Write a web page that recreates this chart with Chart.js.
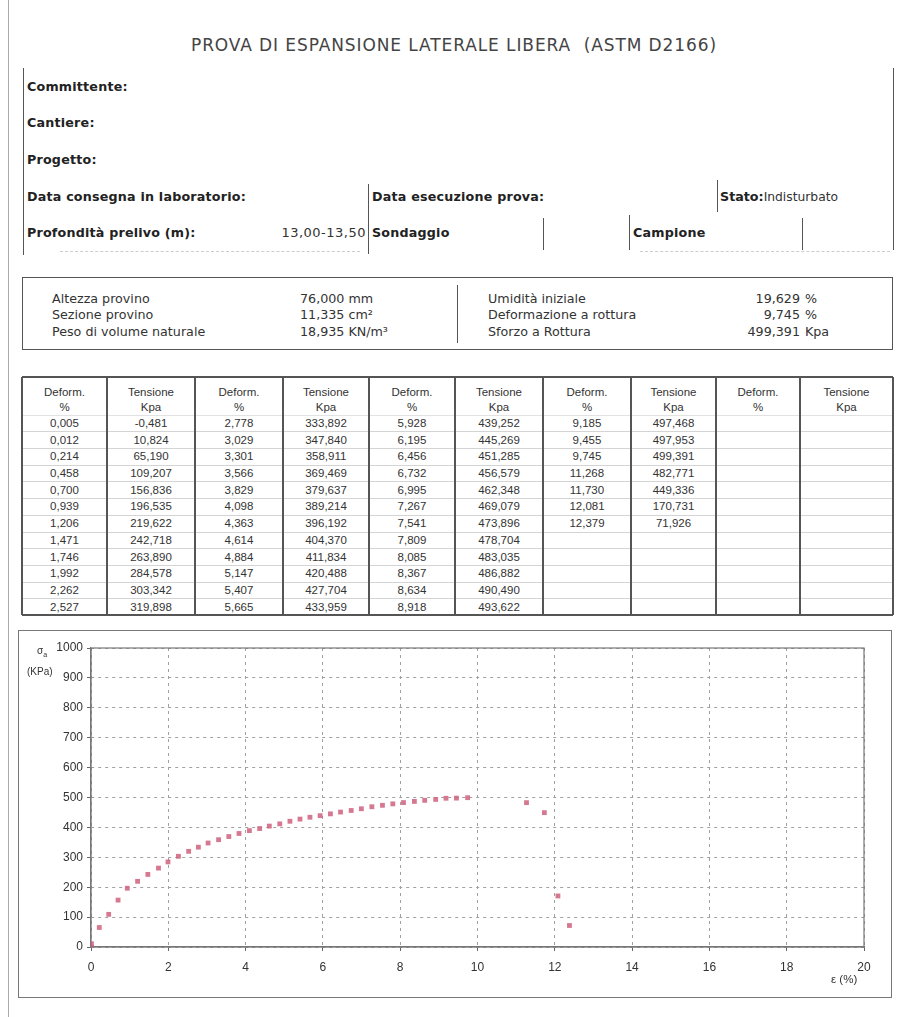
<!DOCTYPE html>
<html lang="it">
<head>
<meta charset="utf-8">
<title>Prova di espansione laterale libera</title>
<script src="https://cdn.jsdelivr.net/npm/chart.js@4.4.1/dist/chart.umd.min.js"></script>
<style>
  html, body { margin: 0; padding: 0; background: #fff; }
  body { width: 898px; height: 1017px; position: relative; overflow: hidden;
         font-family: "DejaVu Sans", Verdana, sans-serif; color: #333; }
  .t { position: absolute; white-space: nowrap; line-height: 16px; transform: translateY(-50%); }
  .b { font-weight: bold; font-size: 12.7px; letter-spacing: 0.2px; color: #222; }
  .r { font-size: 12.7px; }
  .vl { position: absolute; width: 0; border-left: 1.5px solid #555; }
  .hl { position: absolute; height: 0; }
  #info { position: absolute; left: 22px; top: 277px; width: 869px; height: 71px; border: 1.5px solid #555; }
  #table { position: absolute; font-family: "Liberation Sans", Arial, sans-serif; font-size: 11.5px; color: #333; }
  #table .c { position: absolute; text-align: center; line-height: 15px; transform: translateY(-50%); white-space: nowrap; }
  #chartBox { position: absolute; left: 18px; top: 630px; width: 872px; height: 366px; border: 1.5px solid #777; }
  #graph { position: absolute; left: 18px; top: 630px; }
  .ax { position: absolute; font-family: "Liberation Sans", Arial, sans-serif; color: #333; white-space: nowrap; }
</style>
</head>
<body>
<!-- scan edge -->
<div class="vl" style="left:8px; top:0; height:1017px; border-left:1.5px solid #aaa;"></div>

<div class="t" style="left:454px; top:45px; transform:translate(-50%,-50%); font-size:17px; letter-spacing:0.9px; color:#444;">PROVA DI ESPANSIONE LATERALE LIBERA&nbsp;&nbsp;(ASTM D2166)</div>

<!-- form header -->
<div class="vl" style="left:23px; top:68px; height:187px;"></div>
<div class="vl" style="left:893px; top:68px; height:182px;"></div>
<div class="t b" style="left:27px; top:87px;">Committente:</div>
<div class="t b" style="left:27px; top:123px;">Cantiere:</div>
<div class="t b" style="left:27px; top:160px;">Progetto:</div>
<div class="t b" style="left:27px; top:197px;">Data consegna in laboratorio:</div>
<div class="t b" style="left:27px; top:233px;">Profondità prelivo (m):</div>
<div class="t" style="right:532px; top:233px; font-size:13px; letter-spacing:0.5px;">13,00-13,50</div>
<div class="vl" style="left:368px; top:184px; height:70px;"></div>
<div class="t b" style="left:372px; top:197px;">Data esecuzione prova:</div>
<div class="t b" style="left:372px; top:233px;">Sondaggio</div>
<div class="vl" style="left:543px; top:218px; height:32px;"></div>
<div class="vl" style="left:629px; top:215px; height:35px;"></div>
<div class="t b" style="left:633px; top:233px;">Campione</div>
<div class="vl" style="left:802px; top:218px; height:32px;"></div>
<div class="vl" style="left:717px; top:180px; height:32px;"></div>
<div class="t" style="left:720px; top:197px; font-size:12.3px;"><b style="font-size:12.7px;color:#222">Stato:</b>Indisturbato</div>
<div class="hl" style="left:60px; top:251px; width:300px; border-top:1px dashed #ccc;"></div>
<div class="hl" style="left:640px; top:251px; width:250px; border-top:1px dashed #ccc;"></div>

<!-- sample data box -->
<div id="info"></div>
<div class="vl" style="left:457px; top:285px; height:58px;"></div>
<div id="infoText"></div>

<div id="table"></div>

<div id="chartBox"></div>
<canvas id="graph" width="874" height="368"></canvas>
<div class="ax" style="left:37px; top:645px; font-size:10px;">σ<sub style="font-size:7px;">a</sub></div>
<div class="ax" style="left:27px; top:666px; font-size:10px;">(KPa)</div>
<div class="ax" style="left:831px; top:973px; font-size:11.5px;">ε (%)</div>

<script>
// sample properties
const leftLabels = ['Altezza provino', 'Sezione provino', 'Peso di volume naturale'];
const leftValues = ['76,000', '11,335', '18,935'];
const leftUnits = ['mm', 'cm²', 'KN/m³'];
const rightLabels = ['Umidità iniziale', 'Deformazione a rottura', 'Sforzo a Rottura'];
const rightValues = ['19,629', '9,745', '499,391'];
const rightUnits = ['%', '%', 'Kpa'];

// test readings: deformation (%) and stress (kPa)
const strain = [
  0.005, 0.012, 0.214, 0.458, 0.700, 0.939, 1.206, 1.471, 1.746, 1.992, 2.262, 2.527,
  2.778, 3.029, 3.301, 3.566, 3.829, 4.098, 4.363, 4.614, 4.884, 5.147, 5.407, 5.665,
  5.928, 6.195, 6.456, 6.732, 6.995, 7.267, 7.541, 7.809, 8.085, 8.367, 8.634, 8.918,
  9.185, 9.455, 9.745, 11.268, 11.730, 12.081, 12.379
];
const stress = [
  -0.481, 10.824, 65.190, 109.207, 156.836, 196.535, 219.622, 242.718, 263.890, 284.578, 303.342, 319.898,
  333.892, 347.840, 358.911, 369.469, 379.637, 389.214, 396.192, 404.370, 411.834, 420.488, 427.704, 433.959,
  439.252, 445.269, 451.285, 456.579, 462.348, 469.079, 473.896, 478.704, 483.035, 486.882, 490.490, 493.622,
  497.468, 497.953, 499.391, 482.771, 449.336, 170.731, 71.926
];

// axis settings
const xMin = 0, xMax = 20, xStep = 2;
const yMin = 0, yMax = 1000, yStep = 100;

// info box text
const info = document.getElementById('infoText');
const rowY = [299, 315, 332];
function put(parent, txt, css) {
  const d = document.createElement('div');
  d.className = 't r';
  d.textContent = txt;
  Object.assign(d.style, css);
  parent.appendChild(d);
}
rowY.forEach((y, i) => {
  put(info, leftLabels[i], {left: '52px', top: y + 'px'});
  put(info, leftValues[i] + ' ' + leftUnits[i], {left: '300px', top: y + 'px'});
  put(info, rightLabels[i], {left: '488px', top: y + 'px'});
  put(info, rightValues[i], {right: (898 - 800) + 'px', top: y + 'px'});
  put(info, rightUnits[i], {left: '805px', top: y + 'px'});
});

// readings table, 12 rows per column pair
const fmt = v => v.toFixed(3).replace('.', ',');
const table = document.getElementById('table');
const colX = [22, 107, 195, 283, 369, 455, 543, 631, 716, 800, 893];
const tTop = 377, headH = 37.6, rowH = 16.7, nRows = 12;
const tBottom = tTop + headH + nRows * rowH;

function line(x, y, w, h, color) {
  const d = document.createElement('div');
  Object.assign(d.style, {position: 'absolute', left: x + 'px', top: y + 'px',
    width: w + 'px', height: h + 'px', background: color});
  table.appendChild(d);
}
for (let r = 1; r < nRows; r++) {
  line(colX[0], tTop + headH + r * rowH, colX[10] - colX[0], 1, '#d4d4d4');
}
line(colX[0], tTop + headH, colX[10] - colX[0], 1, '#e2e2e2');
colX.forEach(x => line(x - 0.75, tTop, 1.5, tBottom - tTop, '#555'));
line(colX[0], tTop - 0.75, colX[10] - colX[0], 1.5, '#555');
line(colX[0], tBottom - 0.75, colX[10] - colX[0], 1.5, '#555');

function cell(c, y, txt) {
  const d = document.createElement('div');
  d.className = 'c';
  d.style.left = colX[c] + 'px';
  d.style.width = (colX[c + 1] - colX[c]) + 'px';
  d.style.top = y + 'px';
  d.textContent = txt;
  table.appendChild(d);
}
for (let p = 0; p < 5; p++) {
  cell(2 * p, tTop + 15, 'Deform.');
  cell(2 * p, tTop + 30, '%');
  cell(2 * p + 1, tTop + 15, 'Tensione');
  cell(2 * p + 1, tTop + 30, 'Kpa');
  for (let r = 0; r < nRows; r++) {
    const i = p * nRows + r;
    if (i >= strain.length) break;
    const y = tTop + headH + (r + 0.5) * rowH;
    cell(2 * p, y, fmt(strain[i]));
    cell(2 * p + 1, y, fmt(stress[i]));
  }
}

// frame around the plot area
const plotFrame = {
  id: 'plotFrame',
  beforeDatasetsDraw(chart) {
    const {ctx, chartArea: a} = chart;
    ctx.save();
    ctx.strokeStyle = '#777';
    ctx.lineWidth = 1.2;
    ctx.strokeRect(a.left, a.top, a.right - a.left, a.bottom - a.top);
    ctx.restore();
  }
};

const tickFont = {family: 'Liberation Sans', size: 12};
new Chart(document.getElementById('graph'), {
  type: 'scatter',
  data: {
    datasets: [{
      data: strain.map((x, i) => ({x: x, y: stress[i]})),
      pointStyle: 'rect',
      pointRadius: 3.4,
      backgroundColor: 'rgba(206, 96, 124, 0.85)',
      borderColor: 'rgba(206, 96, 124, 0.85)',
      borderWidth: 0
    }]
  },
  options: {
    responsive: false,
    devicePixelRatio: 1,
    animation: false,
    layout: {padding: {left: 0, top: 18, right: 28, bottom: 0}},
    plugins: {legend: {display: false}, tooltip: {enabled: false}},
    scales: {
      x: {
        type: 'linear', min: xMin, max: xMax,
        ticks: {stepSize: xStep, padding: 9, color: '#333', font: tickFont, callback: v => String(v)},
        grid: {color: '#a0a0a0', tickColor: '#666', tickLength: 4, lineWidth: 1},
        border: {display: true, color: '#777', width: 1.2, dash: [3, 4]},
        afterFit(s) { s.height = 51; }
      },
      y: {
        min: yMin, max: yMax,
        ticks: {stepSize: yStep, padding: 4, color: '#333', font: tickFont, callback: v => String(v)},
        grid: {color: '#a0a0a0', tickColor: '#666', tickLength: 4, lineWidth: 1},
        border: {display: true, color: '#777', width: 1.2, dash: [3, 4]},
        afterFit(s) { s.width = 73; }
      }
    }
  },
  plugins: [plotFrame]
});
</script>
</body>
</html>
